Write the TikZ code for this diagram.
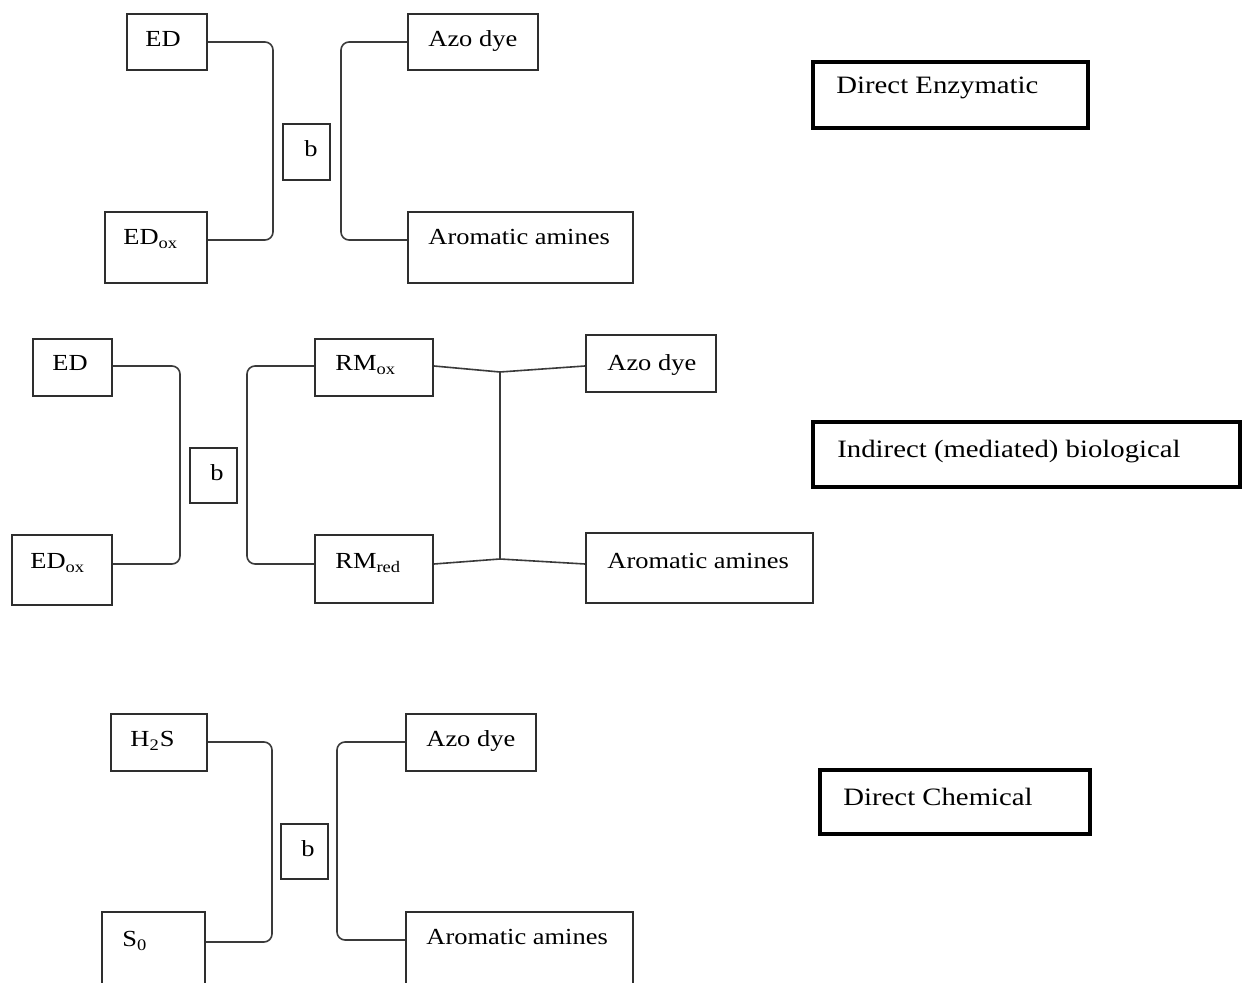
\documentclass[tikz,border=0pt]{standalone}
\usepackage{fontspec}
\setmainfont{Liberation Serif}[FakeStretch=1.15]
\usetikzlibrary{fit}
\definecolor{boxGray}{HTML}{2E2E2E}
\definecolor{lineGray}{HTML}{3A3A3A}

\begin{document}
\begin{tikzpicture}[x=0.5pt, y=-0.5pt,
    every node/.style={font=\fontsize{11.5}{13}\selectfont},
    box/.style={draw=boxGray, line width=1pt, inner sep=0pt},
    catbox/.style={draw=black, line width=2.4pt, inner sep=0pt},
    lbl/.style={anchor=mid west, inner sep=0pt},
    catlbl/.style={anchor=mid west, inner sep=0pt, font=\fontsize{12.5}{14}\selectfont},
    bracket/.style={draw=lineGray, line width=0.8pt, rounded corners=4pt},
    link/.style={draw=lineGray, line width=0.8pt}]
  \useasboundingbox (0,0) rectangle (1243,983);
  \clip (0,0) rectangle (1243,983);

  % direct enzymatic
  \node[box, fit={(127,14) (207,70)}] (ed1) {};
  \node[lbl] (ed1-l) at (145,42) {ED};
  \node[box, fit={(105,212) (207,283)}] (ox1) {};
  \node[lbl] (ox1-l) at (123,240) {ED\textsubscript{ox}};
  \node[box, fit={(283,124) (330,180)}] (b1) {};
  \node[lbl] (b1-l) at (304,152) {b};
  \node[box, fit={(408,14) (538,70)}] (az1) {};
  \node[lbl] (az1-l) at (428,42) {Azo dye};
  \node[box, fit={(408,212) (633,283)}] (ar1) {};
  \node[lbl] (ar1-l) at (428,240) {Aromatic amines};
  \node[catbox, fit={(813,62) (1088,128)}] (cat1) {};
  \node[catlbl] (cat1-l) at (836,89) {Direct Enzymatic};
  \coordinate (j1) at (273,140);
  \coordinate (j2) at (341,140);

  % indirect (mediated) biological
  \node[box, fit={(33,339) (112,396)}] (ed2) {};
  \node[lbl] (ed2-l) at (52,366) {ED};
  \node[box, fit={(12,535) (112,605)}] (ox2) {};
  \node[lbl] (ox2-l) at (30,564) {ED\textsubscript{ox}};
  \node[box, fit={(190,448) (237,503)}] (b2) {};
  \node[lbl] (b2-l) at (210,476) {b};
  \node[box, fit={(315,339) (433,396)}] (rmo) {};
  \node[lbl] (rmo-l) at (335,366) {RM\textsubscript{ox}};
  \node[box, fit={(315,535) (433,603)}] (rmr) {};
  \node[lbl] (rmr-l) at (335,564) {RM\textsubscript{red}};
  \node[box, fit={(586,335) (716,392)}] (az2) {};
  \node[lbl] (az2-l) at (607,366) {Azo dye};
  \node[box, fit={(586,533) (813,603)}] (ar2) {};
  \node[lbl] (ar2-l) at (607,564) {Aromatic amines};
  \node[catbox, fit={(813,422) (1240,487)}] (cat2) {};
  \node[catlbl] (cat2-l) at (837,453) {Indirect (mediated) biological};
  \coordinate (j3) at (180,465);
  \coordinate (j4) at (247,465);
  \coordinate (j5a) at (500,372);
  \coordinate (j5b) at (500,559);

  % direct chemical
  \node[box, fit={(111,714) (207,771)}] (hs) {};
  \node[lbl] (hs-l) at (130,742) {H\textsubscript{2}S};
  \node[box, fit={(102,912) (205,995)}] (s0) {};
  \node[lbl] (s0-l) at (122,942) {S\textsubscript{0}};
  \node[box, fit={(281,824) (328,879)}] (b3) {};
  \node[lbl] (b3-l) at (301,852) {b};
  \node[box, fit={(406,714) (536,771)}] (az3) {};
  \node[lbl] (az3-l) at (426,742) {Azo dye};
  \node[box, fit={(406,912) (633,995)}] (ar3) {};
  \node[lbl] (ar3-l) at (426,940) {Aromatic amines};
  \node[catbox, fit={(820,770) (1090,834)}] (cat3) {};
  \node[catlbl] (cat3-l) at (843,801) {Direct Chemical};
  \coordinate (j6) at (272,840);
  \coordinate (j7) at (337,840);

  % brackets
  \foreach \a/\j/\b in {ed1/j1/ox1,ed2/j3/ox2,hs/j6/s0}
    \draw[bracket] (\a.east |- \a-l.mid) -| (\j) |- (\b.east |- \b-l.mid);
  \foreach \a/\j/\b in {az1/j2/ar1,rmo/j4/rmr,az3/j7/ar3}
    \draw[bracket] (\a.west |- \a-l.mid) -| (\j) |- (\b.west |- \b-l.mid);
  \draw[link] (rmo.east |- rmo-l.mid) -- (j5a) -- (az2.west |- az2-l.mid);
  \draw[link] (rmr.east |- rmr-l.mid) -- (j5b) -- (ar2.west |- ar2-l.mid);
  \draw[link] (j5a) -- (j5b);
\end{tikzpicture}
\end{document}
